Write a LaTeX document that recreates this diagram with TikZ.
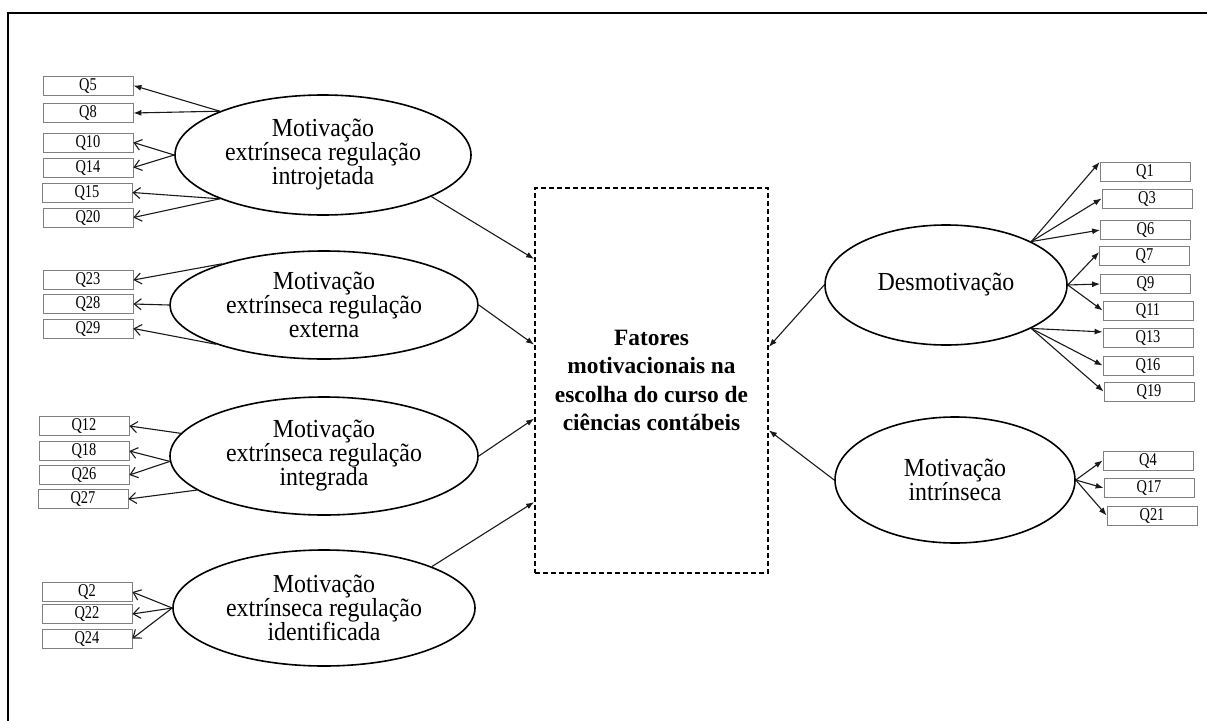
\documentclass[tikz,border=0pt]{standalone}
\usepackage{fontspec}
\setmainfont{Liberation Serif}
\newfontfamily\itemfont{Liberation Serif}[FakeStretch=0.8]
\newfontfamily\construtofont{Liberation Serif}[FakeStretch=0.92]
\usetikzlibrary{shapes.geometric,arrows.meta}

\begin{document}
\begin{tikzpicture}[x=1pt,y=-1pt,
	qbox/.style={draw=black!50,line width=0.8pt,minimum width=90pt,minimum height=19pt,inner sep=0pt,font=\itemfont\fontsize{18}{18}\selectfont},
	construto/.style={ellipse,draw,line width=1.6pt,inner sep=0pt,align=center,font=\construtofont\fontsize{26}{24}\selectfont},
	fatorbox/.style={draw,dashed,dash pattern=on 5pt off 3pt,line width=1.8pt,minimum width=233pt,minimum height=385pt,inner sep=0pt,align=center,font=\fontsize{23.4}{28.5}\selectfont\bfseries},
	carga/.style={draw=black!90,line width=1.1pt,-{Straight Barb[length=7pt,width=11pt]}},
	cargacheia/.style={draw=black!90,line width=1.1pt,-{Latex[length=8pt,width=6pt]}},
	efeito/.style={draw=black!90,line width=1.1pt,-{Latex[length=8pt,width=6pt]}}]
			\useasboundingbox (0,0) rectangle (1207,720);
			\clip (0,0) rectangle (1207,720);
			\draw [line width=2.6pt] (8,740) -- (8,13) -- (1230,13);
			% constructs
			\node[construto,minimum width=296pt,minimum height=120pt] (introjetada) at (323,155) {Motivação\\extrínseca regulação\\introjetada};
			\node[construto,minimum width=308pt,minimum height=108pt] (externa) at (324,305) {Motivação\\extrínseca regulação\\externa};
			\node[construto,minimum width=308pt,minimum height=118pt] (integrada) at (324,456) {Motivação\\extrínseca regulação\\integrada};
			\node[construto,minimum width=302pt,minimum height=116pt] (identificada) at (324,608) {Motivação\\extrínseca regulação\\identificada};
			\node[construto,minimum width=242pt,minimum height=120pt] (desmotivacao) at (946,285) {Desmotivação};
			\node[construto,minimum width=240pt,minimum height=126pt] (intrinseca) at (955,480) {Motivação\\intrínseca};
			\node[fatorbox] (fatores) at (651.5,380.5) {Fatores\\motivacionais na\\escolha do curso de\\ciências contábeis};
			% items, left
			\node[qbox] (q5) at (88,85.5) {Q5};
			\node[qbox] (q8) at (88,113) {Q8};
			\node[qbox] (q10) at (88,142.5) {Q10};
			\node[qbox] (q14) at (88,167.5) {Q14};
			\node[qbox] (q15) at (87,192.5) {Q15};
			\node[qbox] (q20) at (88,217.5) {Q20};
			\node[qbox] (q23) at (88,280) {Q23};
			\node[qbox] (q28) at (88,304) {Q28};
			\node[qbox] (q29) at (88,328.5) {Q29};
			\node[qbox] (q12) at (84,426) {Q12};
			\node[qbox] (q18) at (84,451) {Q18};
			\node[qbox] (q26) at (84,475) {Q26};
			\node[qbox] (q27) at (83,499) {Q27};
			\node[qbox] (q2) at (87,592) {Q2};
			\node[qbox] (q22) at (87,614) {Q22};
			\node[qbox] (q24) at (87,638.5) {Q24};
			% items, right
			\node[qbox] (q1) at (1145,172) {Q1};
			\node[qbox] (q3) at (1147,198.5) {Q3};
			\node[qbox] (q6) at (1145.5,230) {Q6};
			\node[qbox] (q7) at (1144.5,256) {Q7};
			\node[qbox] (q9) at (1145.5,284) {Q9};
			\node[qbox] (q11) at (1148,310.5) {Q11};
			\node[qbox] (q13) at (1148,337.5) {Q13};
			\node[qbox] (q16) at (1148,365.5) {Q16};
			\node[qbox] (q19) at (1149,391.5) {Q19};
			\node[qbox] (q4) at (1148,460.5) {Q4};
			\node[qbox] (q17) at (1149,488) {Q17};
			\node[qbox] (q21) at (1152,515.5) {Q21};
			% loadings
			\draw[cargacheia] (introjetada.157) -- (q5.east);
			\draw[cargacheia] (introjetada.157) -- (q8.east);
			\draw[carga] (introjetada.west) -- (q10.east);
			\draw[carga] (introjetada.west) -- (q14.east);
			\draw[carga] (introjetada.203) -- (q15.east);
			\draw[carga] (introjetada.203) -- (q20.east);
			\draw[carga] (externa.158) -- (q23.east);
			\draw[carga] (externa.west) -- (q28.east);
			\draw[carga] (externa.200) -- (q29.east);
			\draw[carga] (integrada.171) -- (q12.east);
			\draw[carga] (integrada.182) -- (q18.east);
			\draw[carga] (integrada.182) -- (q26.east);
			\draw[carga] (integrada.195) -- (q27.east);
			\draw[carga] (identificada.west) -- (q2.east);
			\draw[carga] (identificada.west) -- (q22.east);
			\draw[carga] (identificada.west) -- (q24.east);
			\draw[cargacheia] (desmotivacao.27) -- (q1.north west);
			\draw[cargacheia] (desmotivacao.27) -- (q3.west);
			\draw[cargacheia] (desmotivacao.27) -- (q6.west);
			\draw[cargacheia] (desmotivacao.east) -- (q7.175);
			\draw[cargacheia] (desmotivacao.east) -- (q9.west);
			\draw[cargacheia] (desmotivacao.east) -- (q11.west);
			\draw[cargacheia] (desmotivacao.333) -- (q13.173);
			\draw[cargacheia] (desmotivacao.333) -- (q16.west);
			\draw[cargacheia] (desmotivacao.333) -- (q19.west);
			\draw[cargacheia] (intrinseca.east) -- (q4.west);
			\draw[cargacheia] (intrinseca.east) -- (q17.west);
			\draw[cargacheia] (intrinseca.east) -- (q21.west);
			% paths to the factor box
			\draw[efeito] (introjetada.339) -- (fatores.134);
			\draw[efeito] (externa.east) -- (fatores.163);
			\draw[efeito] (integrada.east) -- (fatores.198);
			\draw[efeito] (identificada.21) -- (fatores.226);
			\draw[efeito] (desmotivacao.west) -- (fatores.16);
			\draw[efeito] (intrinseca.west) -- (fatores.337);
		\end{tikzpicture}
\end{document}
